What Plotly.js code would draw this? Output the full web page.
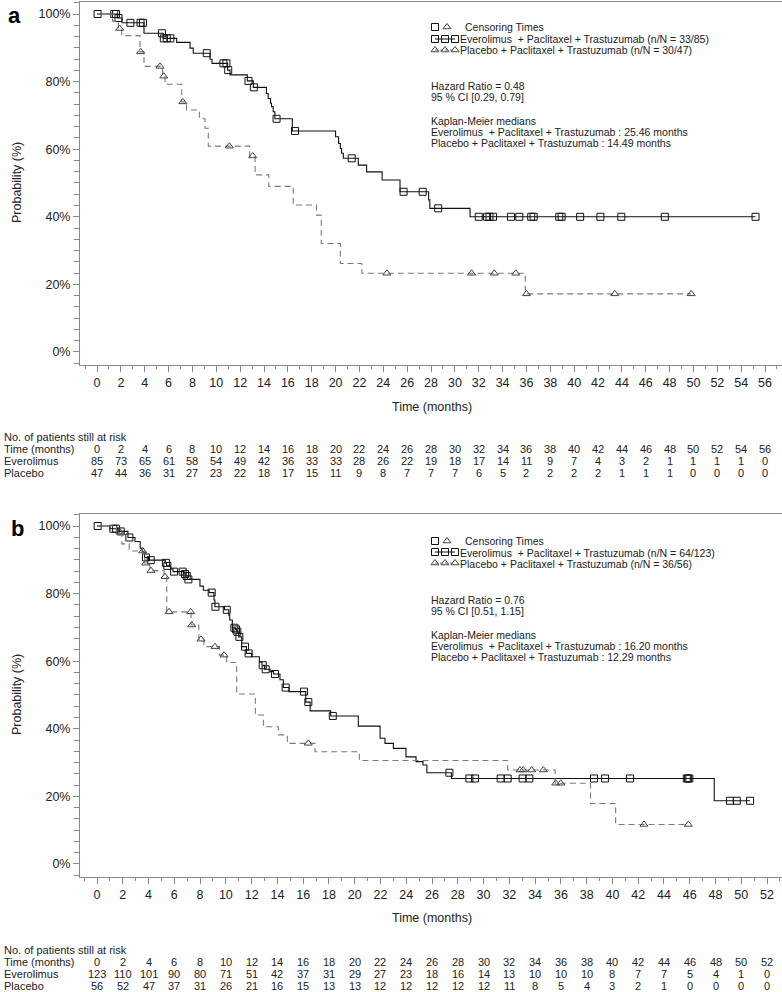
<!DOCTYPE html>
<html>
<head>
<meta charset="utf-8">
<script src="https://cdn.plot.ly/plotly-3.0.1.min.js"></script>
<style>body{margin:0;background:#fff}#plot{width:782px;height:992px}</style>
</head>
<body>
<div id="plot"></div>
<script>
// ---- Panel a: Kaplan-Meier steps (months, survival %) ----
const aEveT = [0, 1.7, 2.1, 3.94, 5.55, 6.68, 7.8, 8.07, 9.47, 9.64, 10.95, 11.15, 12.6, 13.1, 14.2, 14.35, 14.55, 14.63, 14.77, 14.91, 16.37, 20.0, 20.25, 20.4, 20.5, 20.65, 21.9, 22.6, 23.9, 25.4, 27.8, 27.9, 31.27];
const aEveS = [100, 98.8, 97.4, 94.3, 92.8, 91.6, 89.9, 88.4, 86.6, 85.4, 83.4, 82.0, 80.2, 78.3, 76.5, 75.0, 73.6, 72.6, 71.1, 69.0, 65.4, 63.7, 61.7, 60.2, 58.8, 57.3, 55.3, 53.3, 50.9, 47.4, 45.0, 42.5, 40.0];
const aEveCens = [0.05, 1.45, 1.6, 1.8, 2.8, 3.65, 3.85, 5.45, 5.6, 5.85, 6.15, 9.2, 10.6, 10.85, 11.0, 12.7, 13.15, 15.05, 16.6, 21.35, 25.7, 27.3, 28.6, 32.0, 32.7, 32.9, 33.2, 34.7, 35.4, 36.4, 36.6, 38.75, 38.95, 40.5, 42.2, 43.95, 47.6, 55.2];

const aPlaT = [0, 1.3, 1.8, 2.07, 3.6, 3.94, 5.5, 5.7, 7.1, 7.5, 8.58, 9.05, 9.33, 12.8, 13.25, 14.4, 16.45, 18.4, 18.8, 20.4, 22.2, 35.9];
const aPlaS = [100, 97.9, 95.7, 93.6, 88.8, 84.5, 81.6, 79.2, 74.0, 71.6, 69.0, 66.2, 60.9, 58.0, 52.4, 49.0, 43.5, 40.5, 32.1, 26.2, 23.3, 17.2];
const aPlaCens = [1.9, 3.66, 5.28, 5.6, 7.2, 11.1, 13.05, 24.3, 31.4, 33.3, 35.1, 36.0, 43.4, 49.8];

// ---- Panel b ----
const bEveT = [0, 1.0, 1.7, 2.4, 2.95, 3.35, 3.5, 3.7, 4.0, 5.3, 5.4, 5.7, 5.9, 6.75, 6.9, 7.0, 7.99, 8.25, 8.7, 9.08, 9.15, 9.9, 10.22, 10.3, 10.5, 10.75, 10.85, 11.0, 11.23, 11.6, 12.0, 12.6, 12.8, 13.0, 13.43, 13.7, 14.2, 14.46, 14.9, 16.2, 16.54, 18.14, 20.28, 21.97, 22.35, 23.0, 23.98, 24.76, 25.3, 25.6, 27.5, 47.9];
const bEveS = [100, 99.2, 98.4, 96.6, 95.4, 93.4, 92.4, 90.7, 89.9, 89.1, 88.2, 87.3, 86.5, 85.8, 85.2, 84.2, 82.2, 81.0, 80.3, 78.1, 76.1, 75.2, 73.7, 72.2, 69.9, 69.4, 68.7, 67.2, 64.3, 62.3, 61.3, 59.8, 58.8, 57.6, 56.9, 56.2, 54.5, 52.2, 51.0, 47.9, 45.3, 43.8, 40.8, 37.2, 35.7, 34.2, 31.7, 30.3, 29.3, 27.0, 25.3, 18.7];
const bEveCens = [0.05, 1.27, 1.48, 1.84, 2.51, 3.8, 4.17, 5.35, 5.46, 5.98, 6.65, 6.83, 6.96, 7.09, 8.9, 9.19, 10.07, 10.66, 10.79, 10.89, 11.05, 11.49, 11.77, 12.86, 13.09, 13.81, 14.64, 16.06, 16.4, 18.3, 27.35, 28.9, 29.34, 31.33, 31.87, 33.03, 33.55, 38.57, 39.43, 41.37, 45.77, 45.87, 45.97, 49.13, 49.65, 50.68];

const bPlaT = [0, 1.5, 1.92, 2.5, 3.7, 4.1, 5.2, 5.41, 7.3, 7.9, 8.3, 9.5, 10.06, 10.84, 12.29, 12.91, 14.07, 14.77, 16.92, 20.36, 31.87, 35.55, 38.3, 40.25];
const bPlaS = [100, 98.2, 94.7, 92.6, 89.0, 86.8, 85.0, 74.6, 70.7, 66.5, 64.3, 61.8, 59.6, 50.3, 44.1, 40.6, 38.2, 35.7, 33.2, 30.6, 27.8, 23.9, 17.9, 11.7];
const bPlaCens = [1.78, 3.55, 3.78, 4.19, 5.28, 5.59, 7.27, 7.35, 8.07, 9.16, 9.86, 16.4, 32.83, 33.08, 33.73, 34.64, 35.6, 35.99, 42.45, 45.89];

// ---- Numbers at risk ----
const aRiskTimes = [0, 2, 4, 6, 8, 10, 12, 14, 16, 18, 20, 22, 24, 26, 28, 30, 32, 34, 36, 38, 40, 42, 44, 46, 48, 50, 52, 54, 56];
const aRiskEve = [85, 73, 65, 61, 58, 54, 49, 42, 36, 33, 33, 28, 26, 22, 19, 18, 17, 14, 11, 9, 7, 4, 3, 2, 1, 1, 1, 1, 0];
const aRiskPla = [47, 44, 36, 31, 27, 23, 22, 18, 17, 15, 11, 9, 8, 7, 7, 7, 6, 5, 2, 2, 2, 2, 1, 1, 1, 0, 0, 0, 0];
const bRiskTimes = [0, 2, 4, 6, 8, 10, 12, 14, 16, 18, 20, 22, 24, 26, 28, 30, 32, 34, 36, 38, 40, 42, 44, 46, 48, 50, 52];
const bRiskEve = [123, 110, 101, 90, 80, 71, 51, 42, 37, 31, 29, 27, 23, 18, 16, 14, 13, 10, 10, 10, 8, 7, 7, 5, 4, 1, 0];
const bRiskPla = [56, 52, 47, 37, 31, 26, 21, 16, 15, 13, 13, 12, 12, 12, 12, 12, 11, 8, 5, 4, 3, 2, 1, 0, 0, 0, 0];

const yTickVals = [0, 20, 40, 60, 80, 100];
const yTickText = ["0%", "20%", "40%", "60%", "80%", "100%"];

const aTexts = ["Hazard Ratio = 0.48", "95 % CI [0.29, 0.79]", "Kaplan-Meier medians",
  "Everolimus  + Paclitaxel + Trastuzumab : 25.46 months", "Placebo + Paclitaxel + Trastuzumab : 14.49 months"];
const bTexts = ["Hazard Ratio = 0.76", "95 % CI [0.51, 1.15]", "Kaplan-Meier medians",
  "Everolimus  + Paclitaxel + Trastuzumab : 16.20 months", "Placebo + Paclitaxel + Trastuzumab : 12.29 months"];
const aLegend = ["Everolimus  + Paclitaxel + Trastuzumab (n/N = 33/85)", "Placebo + Paclitaxel + Trastuzumab (n/N = 30/47)"];
const bLegend = ["Everolimus  + Paclitaxel + Trastuzumab (n/N = 64/123)", "Placebo + Paclitaxel + Trastuzumab (n/N = 36/56)"];

const W = 782, H = 992;
const FONT = "Liberation Sans, Arial, sans-serif";
const TXT = "#222";
const AX = "#8a8a8a";
const px = v => v / W;
const py = v => 1 - v / H;

function stepAt(T, S, t) {
  let v = S[0];
  for (let i = 0; i < T.length; i++) if (T[i] <= t) v = S[i];
  return v;
}

function curve(T, S, cens, xa, ya, solid) {
  const end = cens[cens.length - 1];
  const line = {
    x: T.concat([end]), y: S.concat([S[S.length - 1]]),
    xaxis: xa, yaxis: ya, mode: "lines", hoverinfo: "skip",
    line: solid ? { color: "#111", width: 1.1, shape: "hv" }
                : { color: "#7a7a7a", width: 1.1, shape: "hv", dash: "6px,4px" }
  };
  const marks = {
    x: cens, y: cens.map(t => stepAt(T, S, t)),
    xaxis: xa, yaxis: ya, mode: "markers", hoverinfo: "skip",
    marker: solid ? { symbol: "square-open", size: 7, color: "#111", line: { width: 1 } }
                  : { symbol: "triangle-up-open", size: 7, color: "#444", line: { width: 1 } }
  };
  return [line, marks];
}

// legend glyphs drawn on an overlay axis measured in pixels
function glyph(xs, y, solid, withLine) {
  return {
    x: xs, y: xs.map(() => y), xaxis: "x3", yaxis: "y3",
    mode: withLine ? "lines+markers" : "markers", hoverinfo: "skip",
    line: solid ? { color: "#111", width: 1 } : { color: "#7a7a7a", width: 1, dash: "3px,2px" },
    marker: solid ? { symbol: "square-open", size: 7, color: "#111", line: { width: 1 } }
                  : { symbol: "triangle-up-open", size: 7, color: "#444", line: { width: 1 } }
  };
}

const traces = [
  ...curve(aEveT, aEveS, aEveCens, "x", "y", true),
  ...curve(aPlaT, aPlaS, aPlaCens, "x", "y", false),
  ...curve(bEveT, bEveS, bEveCens, "x2", "y2", true),
  ...curve(bPlaT, bPlaS, bPlaCens, "x2", "y2", false),
  glyph([435], 27, true, false), glyph([447], 27, false, false),
  glyph([435, 445, 455], 39, true, true), glyph([435, 445, 455], 50, false, true),
  glyph([435], 541, true, false), glyph([447], 541, false, false),
  glyph([435, 445, 455], 552, true, true), glyph([435, 445, 455], 563, false, true)
];

const ann = [];
function note(text, x, y, opts) {
  ann.push(Object.assign({
    text: text, x: px(x), y: py(y), xref: "paper", yref: "paper",
    xanchor: "left", yanchor: "middle", showarrow: false,
    font: { family: FONT, size: 11, color: TXT }
  }, opts || {}));
}

// panel letters
note("<b>a</b>", 6, 15, { font: { family: FONT, size: 22, color: "#000" } });
note("<b>b</b>", 9, 528, { font: { family: FONT, size: 22, color: "#000" } });

// in-plot text blocks
function block(legend, texts, top) {
  const f = { font: { family: FONT, size: 10.5, color: TXT } };
  note("Censoring Times", 463, top, f);
  note(legend[0], 458, top + 12, f);
  note(legend[1], 458, top + 23, f);
  note(texts[0], 429, top + 59, f);
  note(texts[1], 429, top + 70, f);
  note(texts[2], 429, top + 94, f);
  note(texts[3], 429, top + 105, f);
  note(texts[4], 429, top + 116, f);
}
block(aLegend, aTexts, 27);
block(bLegend, bTexts, 541);

// axis titles
note("Time (months)", 432, 407, { xanchor: "center", font: { family: FONT, size: 12.5, color: TXT } });
note("Time (months)", 432, 918, { xanchor: "center", font: { family: FONT, size: 12.5, color: TXT } });
note("Probability (%)", 17, 183, { xanchor: "center", textangle: -90, font: { family: FONT, size: 12.5, color: TXT } });
note("Probability (%)", 17, 695, { xanchor: "center", textangle: -90, font: { family: FONT, size: 12.5, color: TXT } });

// risk tables
function riskTable(times, eve, pla, xref, top) {
  note("No. of patients still at risk", 2, top);
  note("Time (months)", 2, top + 12);
  note("Everolimus", 2, top + 24);
  note("Placebo", 2, top + 36);
  const rows = [times, eve, pla];
  rows.forEach((row, r) => {
    row.forEach((v, i) => {
      ann.push({
        text: String(v), x: times[i], y: py(top + 12 * (r + 1)), xref: xref, yref: "paper",
        xanchor: "center", yanchor: "middle", showarrow: false,
        font: { family: FONT, size: 11, color: TXT }
      });
    });
  });
}
riskTable(aRiskTimes, aRiskEve, aRiskPla, "x", 437);
riskTable(bRiskTimes, bRiskEve, bRiskPla, "x2", 950);

function xAxis(domain, range, anchor) {
  return {
    domain: domain, range: range, anchor: anchor,
    showline: true, linecolor: AX, linewidth: 1, mirror: true,
    ticks: "outside", ticklen: 6, tickcolor: AX, tickwidth: 1,
    tick0: 0, dtick: 2, showgrid: false, zeroline: false,
    tickfont: { family: FONT, size: 12.5, color: TXT },
    minor: { dtick: 1, ticks: "outside", ticklen: 3, tickcolor: AX, showgrid: false },
    fixedrange: true
  };
}
function yAxis(domain, anchor) {
  return {
    domain: domain, range: [-3.85, 103.55], anchor: anchor,
    showline: true, linecolor: AX, linewidth: 1,
    ticks: "outside", ticklen: 6, tickcolor: AX, tickwidth: 1,
    tickmode: "array", tickvals: yTickVals, ticktext: yTickText,
    showgrid: false, zeroline: false,
    tickfont: { family: FONT, size: 12.5, color: TXT },
    minor: { tick0: 0, dtick: 20 / 6, ticks: "outside", ticklen: 5, tickcolor: AX, showgrid: false },
    fixedrange: true
  };
}

const layout = {
  width: W, height: H,
  margin: { l: 0, r: 0, t: 0, b: 0 },
  paper_bgcolor: "#fff", plot_bgcolor: "rgba(0,0,0,0)",
  showlegend: false,
  font: { family: FONT, color: TXT },
  xaxis: xAxis([px(80), 1], [-1.425, 57.42], "y"),
  yaxis: yAxis([py(365), py(2)], "x"),
  xaxis2: xAxis([px(80), 1], [-1.32, 53.16], "y2"),
  yaxis2: yAxis([py(877), py(514)], "x2"),
  xaxis3: { domain: [0, 1], range: [0, W], visible: false, anchor: "y3", fixedrange: true },
  yaxis3: { domain: [0, 1], range: [H, 0], visible: false, anchor: "x3", fixedrange: true },
  annotations: ann
};

Plotly.newPlot("plot", traces, layout, { displayModeBar: false, staticPlot: true });
</script>
</body>
</html>
